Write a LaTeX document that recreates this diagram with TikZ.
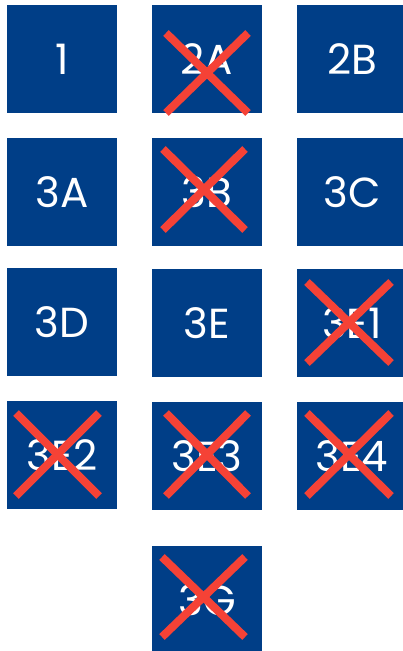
\documentclass[tikz,border=0pt]{standalone}
\usepackage{fontspec}
\setmainfont{Poppins}
\usepackage{xcolor}
\definecolor{navy}{RGB}{0,62,135}
\definecolor{strikered}{RGB}{245,66,54}

\begin{document}
\begin{tikzpicture}[x=1pt, y=-1pt,
    tile/.style={fill=navy, text=white, minimum width=110pt, minimum height=108pt,
      inner sep=0pt, font=\fontsize{42}{46}\selectfont},
    strike/.style={strikered, line width=8pt}]
  \useasboundingbox (0,0) rectangle (403,651);
  \clip (0,0) rectangle (403,651);

  % TILES
  \foreach \x/\y/\nm/\lbl in {62/59/t1/1, 207/59/t2A/2A, 352/59/t2B/2B,
                              62/192/t3A/3A, 207/192/t3B/3B, 352/192/t3C/3C,
                              62/322/t3D/3D, 207/323/t3E/3E, 352/323/t3E1/3E1,
                              62/455/t3E2/3E2, 207/456/t3E3/3E3, 352/456/t3E4/3E4,
                              207/600/t3G/3G} {
    \node[tile] (\nm) at (\x,\y) {\lbl};
  }

  % STRUCK OUT TILES
  \foreach \nm/\xa/\ya/\xb/\yb in {t2A/-41/-26/41/54, t3B/-44/-43/38/38, t3E1/-45/-41/39/40,
                                   t3E2/-46/-42/37/41, t3E3/-41/-43/41/40, t3E4/-45/-43/39/40,
                                   t3G/-45/-43/38/37} {
    \draw[strike] ([shift={(\xa,\ya)}]\nm.center) -- ([shift={(\xb,\yb)}]\nm.center);
    \draw[strike] ([shift={(\xb,\ya)}]\nm.center) -- ([shift={(\xa,\yb)}]\nm.center);
  }
\end{tikzpicture}
\end{document}
